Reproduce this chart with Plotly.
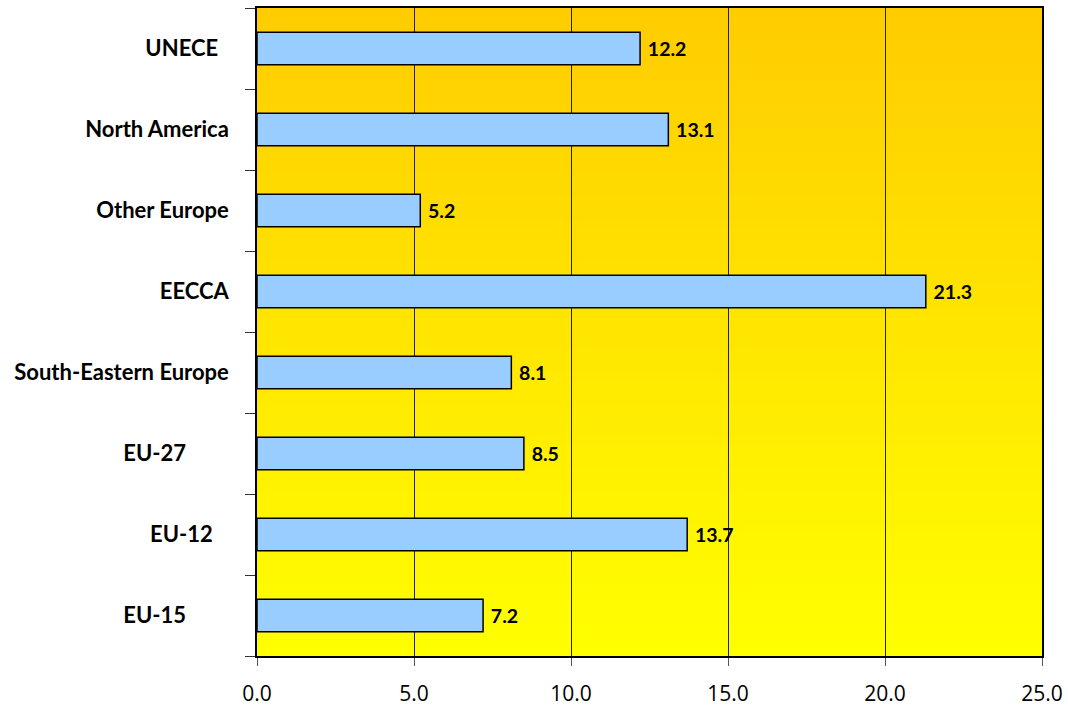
import plotly.graph_objects as go

categories = ["UNECE\u00a0\u00a0", "North America", "Other Europe", "EECCA",
              "South-Eastern Europe", "EU-27\u00a0\u00a0\u00a0\u00a0\u00a0\u00a0\u00a0\u00a0",
              "EU-12\u00a0\u00a0\u00a0", "EU-15\u00a0\u00a0\u00a0\u00a0\u00a0\u00a0\u00a0\u00a0"]
values = [12.2, 13.1, 5.2, 21.3, 8.1, 8.5, 13.7, 7.2]
x_ticks = [0, 5, 10, 15, 20, 25]

fig = go.Figure()
fig.add_trace(go.Bar(
    y=categories, x=values, orientation="h", width=0.4,
    marker=dict(color="#99CCFF", line=dict(color="#000000", width=1.5)),
    text=[f"\u00a0{v:.1f}" for v in values], textposition="outside",
    constraintext="none",
    textfont=dict(family="Lato", size=19.5, color="black", weight="bold"),
    cliponaxis=False, hoverinfo="skip",
))

# vertical gradient background (orange top -> yellow bottom)
n = 80
shapes = []
for i in range(n):
    t = (i + 0.5) / n
    g = int(round(0xCC + (0xFF - 0xCC) * t))
    shapes.append(dict(type="rect", xref="x domain", yref="y domain",
                       x0=0, x1=1, y0=1 - (i + 1) / n, y1=1 - i / n + 0.001,
                       fillcolor=f"rgb(255,{g},0)", line=dict(width=0), layer="below"))

fig.update_layout(
    width=1068, height=709,
    margin=dict(l=257, r=26, t=8, b=53, autoexpand=False),
    paper_bgcolor="white", plot_bgcolor="#FFE600",
    shapes=shapes, showlegend=False, bargap=0.6,
    font=dict(family="Lato", color="black"),
)
fig.update_xaxes(
    range=[0, 25], tickvals=x_ticks, ticktext=[f"{v:.1f}" for v in x_ticks],
    showgrid=True, gridcolor="#222222", gridwidth=1,
    showline=True, linecolor="black", linewidth=1.5, mirror=True,
    ticks="outside", ticklen=8, tickcolor="#555555",
    tickfont=dict(family="Open Sans", size=21, color="black"),
    ticklabelstandoff=10, zeroline=False,
)
fig.update_yaxes(
    categoryorder="array", categoryarray=categories[::-1],
    showline=True, linecolor="black", linewidth=1.5, mirror=True,
    ticks="outside", ticklen=10, tickson="boundaries", tickcolor="#333333",
    tickfont=dict(family="Lato", size=22, color="black", weight="bold"),
    ticklabelstandoff=22, showgrid=False,
)
fig.write_html("out.html", config={"displayModeBar": False},
               post_script="document.body.style.margin='0px';")
